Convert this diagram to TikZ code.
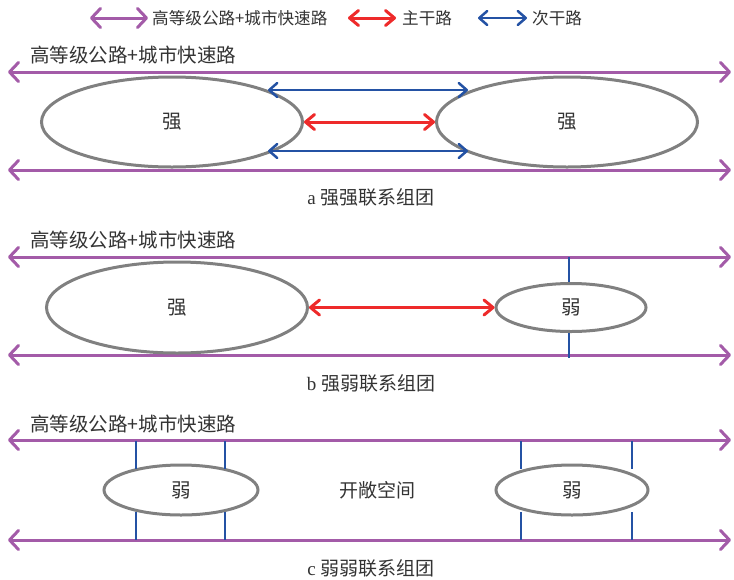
\documentclass[tikz,border=0pt]{standalone}
\usepackage{fontspec}
\setmainfont{Liberation Serif}
\newfontfamily\cjk{Noto Sans CJK SC}
\usetikzlibrary{arrows.meta,shapes.geometric}
\definecolor{purp}{HTML}{A35BA8}
\definecolor{rd}{HTML}{EE2A2A}
\definecolor{bl}{HTML}{2452A4}
\definecolor{ell}{HTML}{808080}
\definecolor{txt}{HTML}{333333}
\tikzset{
  road/.style={draw=purp,line width=3pt,{Straight Barb[length=9pt,width=19pt,round]}-{Straight Barb[length=9pt,width=19pt,round]}},
  mainrd/.style={draw=rd,line width=3pt,{Straight Barb[length=9pt,width=15pt,round]}-{Straight Barb[length=9pt,width=15pt,round]}},
  subrd/.style={draw=bl,line width=2.5pt,{Straight Barb[length=8pt,width=14pt,round]}-{Straight Barb[length=8pt,width=14pt,round]}},
  subline/.style={draw=bl,line width=2.4pt},
  grp/.style={ellipse,draw=ell,line width=3pt,inner sep=0pt,text=txt,font=\cjk\fontsize{19.5}{22}\selectfont},
  lbl/.style={anchor=west,inner sep=0pt,text=txt,font=\cjk\fontsize{19.5}{22}\selectfont},
  leg/.style={anchor=west,inner sep=0pt,text=txt,font=\cjk\fontsize{16.6}{19}\selectfont},
  captxt/.style={inner sep=0pt,text=txt,font=\fontsize{19}{22}\selectfont},
  midtxt/.style={inner sep=0pt,text=txt,font=\cjk\fontsize{19}{22}\selectfont}
}
\begin{document}
\begin{tikzpicture}[x=1pt,y=-1pt]
\useasboundingbox (0,0) rectangle (734,579);
% legend
\coordinate (lp1) at (90,18); \coordinate (lp2) at (148,18);
\coordinate (lr1) at (348,18); \coordinate (lr2) at (396,18);
\coordinate (lb1) at (478,18); \coordinate (lb2) at (527,18);
\draw[road] (lp1) -- (lp2);
\draw[mainrd] (lr1) -- (lr2);
\draw[subrd] (lb1) -- (lb2);
\node[leg] (legp) at (152,18) {高等级公路+城市快速路};
\node[leg] (legr) at (402,18) {主干路};
\node[leg] (legb) at (532,18) {次干路};

% ---- panel a
\node[lbl] (la) at (30,55) {高等级公路+城市快速路};
\coordinate (aT1) at (8,72); \coordinate (aT2) at (731,72);
\coordinate (aB1) at (8,170); \coordinate (aB2) at (731,170);
\draw[road] (aT1) -- (aT2);
\draw[road] (aB1) -- (aB2);
\node[grp,minimum width=261pt,minimum height=90pt] (a1) at (172,122) {强};
\node[grp,minimum width=261pt,minimum height=90pt] (a2) at (567,122) {强};
\draw[mainrd] (a1.east) -- (a2.west);
\coordinate (ab1) at (268,90); \coordinate (ab2) at (468,90);
\coordinate (ab3) at (268,151); \coordinate (ab4) at (468,151);
\draw[subrd] (ab1) -- (ab2);
\draw[subrd] (ab3) -- (ab4);
\node[captxt] (ca) at (371,197) {a {\cjk 强强联系组团}};

% ---- panel b
\node[lbl] (lb) at (30,240) {高等级公路+城市快速路};
\coordinate (bT1) at (8,257); \coordinate (bT2) at (731,257);
\coordinate (bB1) at (8,355); \coordinate (bB2) at (731,355);
\draw[road] (bT1) -- (bT2);
\draw[road] (bB1) -- (bB2);
\node[grp,minimum width=261pt,minimum height=91pt] (b1) at (177,307.5) {强};
\node[grp,minimum width=150pt,minimum height=48pt] (b2) at (571,307.5) {弱};
\draw[mainrd] (b1.east) -- (b2.west);
\coordinate (bv1) at (569,257); \coordinate (bv2) at (569,358);
\draw[subline] (bv1) -- (b2.north -| bv1);
\draw[subline] (b2.south -| bv2) -- (bv2);
\node[captxt] (cb) at (371,383) {b {\cjk 强弱联系组团}};

% ---- panel c
\node[lbl] (lc) at (30,424) {高等级公路+城市快速路};
\coordinate (cT1) at (8,440); \coordinate (cT2) at (731,440);
\coordinate (cB1) at (8,540); \coordinate (cB2) at (731,540);
\draw[road] (cT1) -- (cT2);
\draw[road] (cB1) -- (cB2);
\node[grp,minimum width=154pt,minimum height=50pt] (c1) at (181,490) {弱};
\node[grp,minimum width=152pt,minimum height=50pt] (c2) at (572,490) {弱};
\node[midtxt] (open) at (377,490) {开敞空间};
\foreach \x/\n in {136/p,225/q,521/r,632/s}{
  \coordinate (\n1) at (\x,441); \coordinate (\n2) at (\x,469);
  \coordinate (\n3) at (\x,512); \coordinate (\n4) at (\x,540);
  \draw[subline] (\n1) -- (\n2);
  \draw[subline] (\n3) -- (\n4);
}
\node[captxt] (cc) at (371,568) {c {\cjk 弱弱联系组团}};
\end{tikzpicture}
\end{document}
